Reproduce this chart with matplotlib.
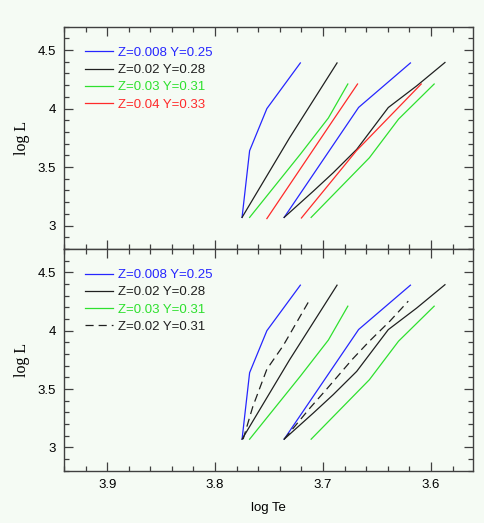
import matplotlib
matplotlib.use("Agg")
import matplotlib.pyplot as plt
from matplotlib.ticker import MultipleLocator

# tracks: log Te, log L
labels = ["Z=0.008 Y=0.25", "Z=0.02 Y=0.28", "Z=0.03 Y=0.31", "Z=0.04 Y=0.33", "Z=0.02 Y=0.31"]

z008_a_te = [3.775, 3.768, 3.752, 3.721]
z008_a_l = [3.07, 3.64, 4.00, 4.39]
z008_b_te = [3.736, 3.667, 3.619]
z008_b_l = [3.07, 4.01, 4.39]

z02_a_te = [3.775, 3.731, 3.687]
z02_a_l = [3.07, 3.75, 4.39]
z02_b_te = [3.736, 3.709, 3.6905, 3.6688, 3.6395, 3.6132, 3.587]
z02_b_l = [3.07, 3.294, 3.452, 3.651, 4.009, 4.194, 4.394]

z03_a_te = [3.768, 3.721, 3.695, 3.677]
z03_a_l = [3.07, 3.61, 3.92, 4.21]
z03_b_te = [3.711, 3.657, 3.630, 3.597]
z03_b_l = [3.07, 3.58, 3.91, 4.21]

z04_a_te = [3.752, 3.690, 3.668]
z04_a_l = [3.06, 3.91, 4.21]
z04_b_te = [3.720, 3.669, 3.609]
z04_b_l = [3.065, 3.64, 4.21]

y31_a_te = [3.774, 3.765, 3.752, 3.737, 3.712]
y31_a_l = [3.07, 3.35, 3.67, 3.87, 4.27]
y31_b_te = [3.736, 3.712, 3.697, 3.673, 3.657, 3.638, 3.621]
y31_b_l = [3.07, 3.338, 3.495, 3.753, 3.91, 4.082, 4.253]

bg = "#f5fbf4"
blue = "#2626ff"
black = "#202020"
green = "#2ee02e"
red = "#ff2a2a"
frame = "#404040"

fig = plt.figure(figsize=(4.84, 5.23), dpi=100, facecolor=bg)
ax1 = fig.add_axes([0.1322, 0.5239, 0.8451, 0.4251], facecolor=bg)
ax2 = fig.add_axes([0.1322, 0.1000, 0.8451, 0.4239], facecolor=bg, sharex=ax1)

lw = 0.9
ax1.plot(z008_a_te, z008_a_l, color=blue, lw=lw, label=labels[0])
ax1.plot(z008_b_te, z008_b_l, color=blue, lw=lw)
ax1.plot(z02_a_te, z02_a_l, color=black, lw=lw, label=labels[1])
ax1.plot(z02_b_te, z02_b_l, color=black, lw=lw)
ax1.plot(z03_a_te, z03_a_l, color=green, lw=lw, label=labels[2])
ax1.plot(z03_b_te, z03_b_l, color=green, lw=lw)
ax1.plot(z04_a_te, z04_a_l, color=red, lw=lw, label=labels[3])
ax1.plot(z04_b_te, z04_b_l, color=red, lw=lw)

ax2.plot(z008_a_te, z008_a_l, color=blue, lw=lw, label=labels[0])
ax2.plot(z008_b_te, z008_b_l, color=blue, lw=lw)
ax2.plot(z02_a_te, z02_a_l, color=black, lw=lw, label=labels[1])
ax2.plot(z02_b_te, z02_b_l, color=black, lw=lw)
ax2.plot(z03_a_te, z03_a_l, color=green, lw=lw, label=labels[2])
ax2.plot(z03_b_te, z03_b_l, color=green, lw=lw)
ax2.plot(y31_a_te, y31_a_l, color=black, lw=lw, dashes=(6.5, 4), label=labels[4])
ax2.plot(y31_b_te, y31_b_l, color=black, lw=lw, dashes=(6.5, 4))

serif = ["Liberation Serif", "DejaVu Serif"]
sans = ["Liberation Sans", "DejaVu Sans"]
fs = 9.5

for ax in (ax1, ax2):
    ax.set_xlim(3.94, 3.561)
    ax.set_ylim(2.8, 4.7)
    ax.set_yticks([3, 3.5, 4, 4.5], ["3", "3.5", "4", "4.5"])
    ax.xaxis.set_major_locator(MultipleLocator(0.1))
    ax.xaxis.set_minor_locator(MultipleLocator(0.02))
    ax.yaxis.set_minor_locator(MultipleLocator(0.1))
    ax.tick_params(which="both", direction="in", top=True, right=True,
                   color=frame, width=0.9, labelsize=fs)
    ax.tick_params(which="major", length=6.5, pad=6)
    ax.tick_params(which="minor", length=3.6)
    for s in ax.spines.values():
        s.set_color(frame)
        s.set_linewidth(1.0)
    for lab in ax.get_yticklabels() + ax.get_xticklabels():
        lab.set_family(sans)
    ax.set_ylabel("log L", family=serif, fontsize=11.5, labelpad=5)
    ax.legend(loc="upper left", bbox_to_anchor=(0.051, 0.91), frameon=False,
              borderpad=0, borderaxespad=0, handlelength=2.1, handletextpad=0.4,
              labelspacing=0.38, labelcolor="linecolor",
              prop={"family": sans, "size": fs})

ax1.tick_params(axis="x", labelbottom=False)
ax2.set_xticks([3.9, 3.8, 3.7, 3.6], ["3.9", "3.8", "3.7", "3.6"])
ax2.set_xlabel("log Te", family=sans, fontsize=fs, labelpad=8)

fig.savefig("out.png", dpi=100, facecolor=bg)
